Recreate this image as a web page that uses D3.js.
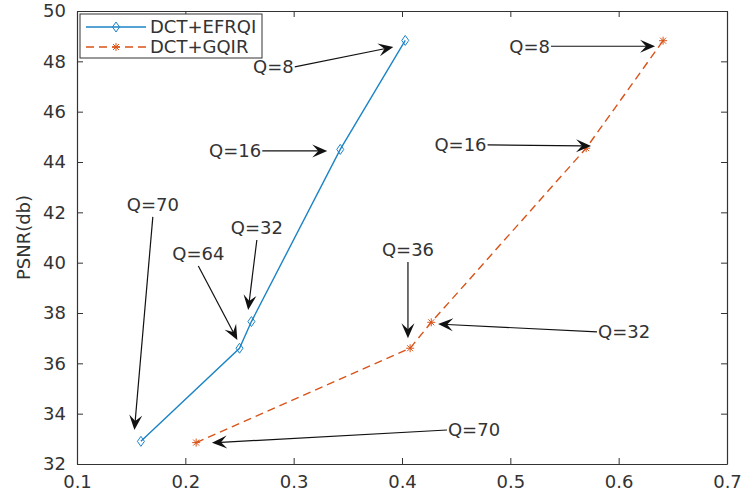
<!DOCTYPE html>
<html>
<head>
<meta charset="utf-8">
<script src="https://cdn.jsdelivr.net/npm/d3@7"></script>
<style>
  body { margin: 0; background: #fff; }
  text { font-family: "DejaVu Sans", sans-serif; fill: #333; }
</style>
</head>
<body>
<svg width="742" height="495"></svg>
<script>
"use strict";

// series data (x = bit rate, y = PSNR)
const efrqiX = [0.159, 0.25, 0.261, 0.343, 0.403];
const efrqiY = [32.9, 36.6, 37.66, 44.5, 48.83];
const gqirX = [0.21, 0.4075, 0.427, 0.57, 0.641];
const gqirY = [32.85, 36.6, 37.63, 44.55, 48.82];

const seriesNames = ["DCT+EFRQI", "DCT+GQIR"];
const xTicks = [0.1, 0.2, 0.3, 0.4, 0.5, 0.6, 0.7];
const yTicks = [32, 34, 36, 38, 40, 42, 44, 46, 48, 50];

// annotations: label, tail (text side) and head, in data units; where text sits
const noteLabels = ["Q=8", "Q=16", "Q=32", "Q=64", "Q=70", "Q=8", "Q=16", "Q=36", "Q=32", "Q=70"];
const noteTailX = [0.301, 0.271, 0.266, 0.212, 0.170, 0.5375, 0.479, 0.4055, 0.580, 0.4415];
const noteTailY = [47.78, 44.44, 40.9, 39.87, 41.82, 48.6, 44.68, 40.03, 37.25, 33.35];
const noteHeadX = [0.392, 0.331, 0.258, 0.248, 0.153, 0.6336, 0.5745, 0.4055, 0.4333, 0.2246];
const noteHeadY = [48.57, 44.44, 38.12, 36.93, 33.35, 48.6, 44.64, 37.0, 37.56, 32.84];
const noteSide = ["left", "left", "top", "top", "top", "left", "left", "top", "right", "right"];

const blue = "#1c84c6";
const orange = "#d95319";
const axisColor = "#333";

const svg = d3.select("svg");
const margin = { left: 77, top: 11, right: 15, bottom: 31 };
const W = 742 - margin.left - margin.right;
const H = 495 - margin.top - margin.bottom;

const x = d3.scaleLinear().domain([0.1, 0.7]).range([0, W]);
const y = d3.scaleLinear().domain([32, 50]).range([H, 0]);

const g = svg.append("g").attr("transform", `translate(${margin.left},${margin.top})`);

// axes (MATLAB style: ticks inside, box on)
function styleAxis(sel) {
  sel.select(".domain").attr("stroke", axisColor).attr("stroke-width", 1.2);
  sel.selectAll(".tick line").attr("stroke", axisColor);
  sel.selectAll(".tick text").style("font-size", "18px").attr("fill", "#3a3a3a");
}
const xAxis = g.append("g").attr("transform", `translate(0,${H})`)
  .call(d3.axisBottom(x).tickValues(xTicks).tickSizeInner(-6).tickSizeOuter(0).tickPadding(11).tickFormat(d3.format(".1f")));
styleAxis(xAxis);
const yAxis = g.append("g")
  .call(d3.axisLeft(y).tickValues(yTicks).tickSizeInner(-6).tickSizeOuter(0).tickPadding(11));
styleAxis(yAxis);
const xTop = g.append("g")
  .call(d3.axisTop(x).tickValues(xTicks).tickSizeInner(-6).tickSizeOuter(0).tickFormat(""));
styleAxis(xTop);
const yRight = g.append("g").attr("transform", `translate(${W},0)`)
  .call(d3.axisRight(y).tickValues(yTicks).tickSizeInner(-6).tickSizeOuter(0).tickFormat(""));
styleAxis(yRight);

// y label
g.append("text")
  .attr("transform", `translate(${-47},${H / 2}) rotate(-90)`)
  .attr("text-anchor", "middle")
  .style("font-size", "18px")
  .attr("fill", "#3a3a3a")
  .text("PSNR(db)");

const line = d3.line().x((d) => x(d[0])).y((d) => y(d[1]));
const efrqi = efrqiX.map((v, i) => [v, efrqiY[i]]);
const gqir = gqirX.map((v, i) => [v, gqirY[i]]);

g.append("path").datum(efrqi).attr("d", line)
  .attr("fill", "none").attr("stroke", blue).attr("stroke-width", 1.4);
g.append("path").datum(gqir).attr("d", line)
  .attr("fill", "none").attr("stroke", orange).attr("stroke-width", 1.4)
  .attr("stroke-dasharray", "8,5");

// markers
function diamond(sel) {
  sel.append("path").attr("d", "M0,-5 L3.5,0 L0,5 L-3.5,0 Z")
    .attr("fill", "none").attr("stroke", blue).attr("stroke-width", 1);
}
function star(sel) {
  sel.append("path").attr("d", "M-4,0 L4,0 M0,-4 L0,4 M-3,-3 L3,3 M-3,3 L3,-3")
    .attr("fill", "none").attr("stroke", orange).attr("stroke-width", 1);
}
g.selectAll(".m1").data(efrqi).enter().append("g")
  .attr("transform", (d) => `translate(${x(d[0])},${y(d[1])})`).call(diamond);
g.selectAll(".m2").data(gqir).enter().append("g")
  .attr("transform", (d) => `translate(${x(d[0])},${y(d[1])})`).call(star);

// annotation arrows
const notes = noteLabels.map((t, i) => ({
  t, tx: x(noteTailX[i]), ty: y(noteTailY[i]), hx: x(noteHeadX[i]), hy: y(noteHeadY[i]), side: noteSide[i]
}));
const L = 15, Wd = 13;
notes.forEach((n) => {
  const ang = Math.atan2(n.hy - n.ty, n.hx - n.tx);
  const len = Math.hypot(n.hx - n.tx, n.hy - n.ty);
  const a = g.append("g").attr("transform", `translate(${n.tx},${n.ty}) rotate(${ang * 180 / Math.PI})`);
  a.append("line").attr("x1", 0).attr("y1", 0).attr("x2", len - L * 0.6).attr("y2", 0)
    .attr("stroke", "#111").attr("stroke-width", 1.2);
  a.append("path")
    .attr("d", `M${len},0 L${len - L},${-Wd / 2} L${len - L * 0.6},0 L${len - L},${Wd / 2} Z`)
    .attr("fill", "#111");
  const txt = g.append("text").style("font-size", "18px").attr("fill", "#333").text(n.t);
  if (n.side === "left") {
    txt.attr("x", n.tx - 1).attr("y", n.ty).attr("text-anchor", "end").attr("dy", "0.35em");
  } else if (n.side === "right") {
    txt.attr("x", n.tx + 1).attr("y", n.ty).attr("text-anchor", "start").attr("dy", "0.35em");
  } else {
    txt.attr("x", n.tx).attr("y", n.ty - 6).attr("text-anchor", "middle");
  }
});

// legend
const lg = g.append("g").attr("transform", "translate(3,3)");
lg.append("rect").attr("width", 182).attr("height", 44)
  .attr("fill", "#fff").attr("stroke", axisColor).attr("stroke-width", 1);
const legendRows = [
  { name: seriesNames[0], color: blue, dash: null, marker: diamond },
  { name: seriesNames[1], color: orange, dash: "8,5", marker: star }
];
legendRows.forEach((r, i) => {
  const row = lg.append("g").attr("transform", `translate(0,${13 + i * 20})`);
  row.append("line").attr("x1", 6).attr("x2", 66).attr("y1", 0).attr("y2", 0)
    .attr("stroke", r.color).attr("stroke-width", 1.4).attr("stroke-dasharray", r.dash);
  row.append("g").attr("transform", "translate(36,0)").call(r.marker);
  row.append("text").attr("x", 70).attr("dy", "0.35em")
    .style("font-size", "18px").attr("fill", "#333").text(r.name);
});
</script>
</body>
</html>
